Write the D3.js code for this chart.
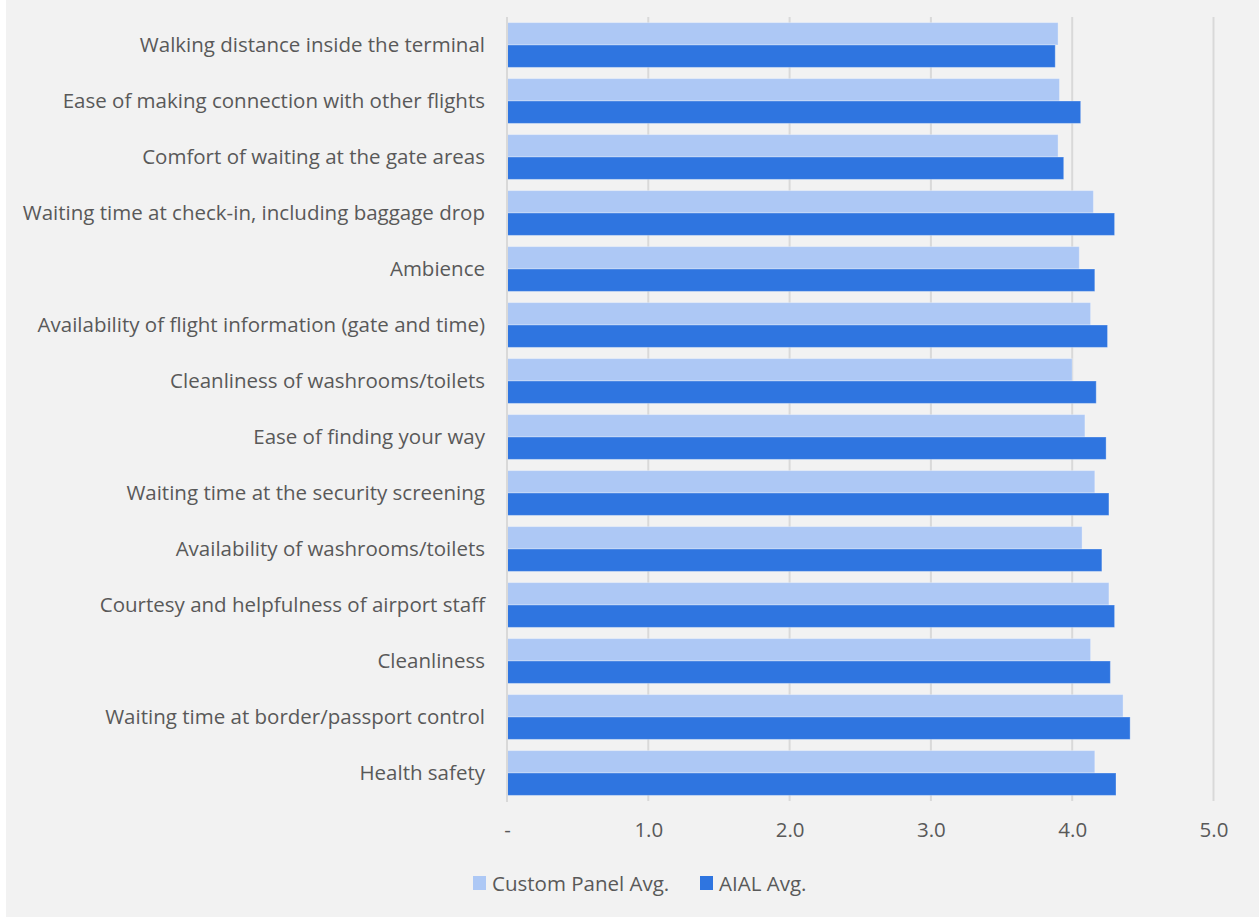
<!DOCTYPE html>
<html>
<head>
<meta charset="utf-8">
<script src="https://cdn.jsdelivr.net/npm/d3@7"></script>
<style>
  html, body { margin: 0; padding: 0; background: #ffffff; }
  svg { display: block; }
  text { font-family: "Open Sans", "Noto Sans", sans-serif; fill: #595959; }
</style>
</head>
<body>
<svg id="chart" width="1259" height="918"></svg>
<script>
const categories = [
  "Walking distance inside the terminal",
  "Ease of making connection with other flights",
  "Comfort of waiting at the gate areas",
  "Waiting time at check-in, including baggage drop",
  "Ambience",
  "Availability of flight information (gate and time)",
  "Cleanliness of washrooms/toilets",
  "Ease of finding your way",
  "Waiting time at the security screening",
  "Availability of washrooms/toilets",
  "Courtesy and helpfulness of airport staff",
  "Cleanliness",
  "Waiting time at border/passport control",
  "Health safety"
];
const customPanelAvg = [3.90, 3.91, 3.90, 4.15, 4.05, 4.13, 4.00, 4.09, 4.16, 4.07, 4.26, 4.13, 4.36, 4.16];
const aialAvg        = [3.88, 4.06, 3.94, 4.30, 4.16, 4.25, 4.17, 4.24, 4.26, 4.21, 4.30, 4.27, 4.41, 4.31];
const seriesNames = ["Custom Panel Avg.", "AIAL Avg."];
const seriesColors = ["#adc8f5", "#2f75e0"];
const tickValues = [0, 1, 2, 3, 4, 5];
const tickLabels = ["-", "1.0", "2.0", "3.0", "4.0", "5.0"];

const FONT = '"Open Sans", "Noto Sans", sans-serif';
const FS = 20.5;

const svg = d3.select("#chart");

// chart area background
svg.append("rect")
  .attr("x", 6).attr("y", 0)
  .attr("width", 1253).attr("height", 917)
  .attr("fill", "#f2f2f2");

const x = d3.scaleLinear().domain([0, 5]).range([507, 1213.5]);
const y = d3.scaleBand().domain(categories).range([17, 801])
  .paddingInner(0.2).paddingOuter(0.1);
const sub = d3.scaleBand().domain(seriesNames).range([0, y.bandwidth()]);

// vertical gridlines
svg.append("g")
  .selectAll("line")
  .data(tickValues.slice(1))
  .join("line")
  .attr("x1", d => x(d)).attr("x2", d => x(d))
  .attr("y1", 17).attr("y2", 801)
  .attr("stroke", "#d9d9d9").attr("stroke-width", 2);

// bars
const rows = categories.map((c, i) => ({ cat: c, vals: [customPanelAvg[i], aialAvg[i]] }));
const groups = svg.append("g").selectAll("g")
  .data(rows)
  .join("g")
  .attr("transform", d => `translate(0,${y(d.cat)})`);
groups.selectAll("rect")
  .data(d => d.vals.map((v, j) => ({ v, name: seriesNames[j], j })))
  .join("rect")
  .attr("x", x(0))
  .attr("y", d => sub(d.name))
  .attr("width", d => x(d.v) - x(0))
  .attr("height", sub.bandwidth())
  .attr("fill", d => seriesColors[d.j])
  .attr("stroke", "#ffffff").attr("stroke-opacity", 0.3).attr("stroke-width", 1);

// zero axis line
svg.append("line")
  .attr("x1", x(0)).attr("x2", x(0))
  .attr("y1", 17).attr("y2", 802)
  .attr("stroke", "#d9d9d9").attr("stroke-width", 2);

// category labels
const yAxis = d3.axisLeft(y).tickSize(0).tickPadding(0);
const gy = svg.append("g").attr("transform", "translate(485,0)").call(yAxis);
gy.select(".domain").remove();
gy.selectAll("text").attr("font-size", FS).style("fill", "#595959")
  .style("font-family", FONT);

// value axis labels
const xAxis = d3.axisBottom(x).tickValues(tickValues)
  .tickFormat((d, i) => tickLabels[i]).tickSize(0).tickPadding(0);
const gx = svg.append("g").attr("transform", "translate(0,820)").call(xAxis);
gx.select(".domain").remove();
gx.selectAll("text").attr("font-size", FS).attr("dy", "0.82em").style("fill", "#595959")
  .style("font-family", FONT);

// legend
const legendX = [473, 700];
const legend = svg.append("g").selectAll("g")
  .data(seriesNames)
  .join("g")
  .attr("transform", (d, i) => `translate(${legendX[i]},876)`);
legend.append("rect").attr("width", 13).attr("height", 14).attr("fill", (d, i) => seriesColors[i]);
legend.append("text").attr("x", 19).attr("y", 14.5).attr("font-size", FS).text(d => d);
</script>
</body>
</html>
